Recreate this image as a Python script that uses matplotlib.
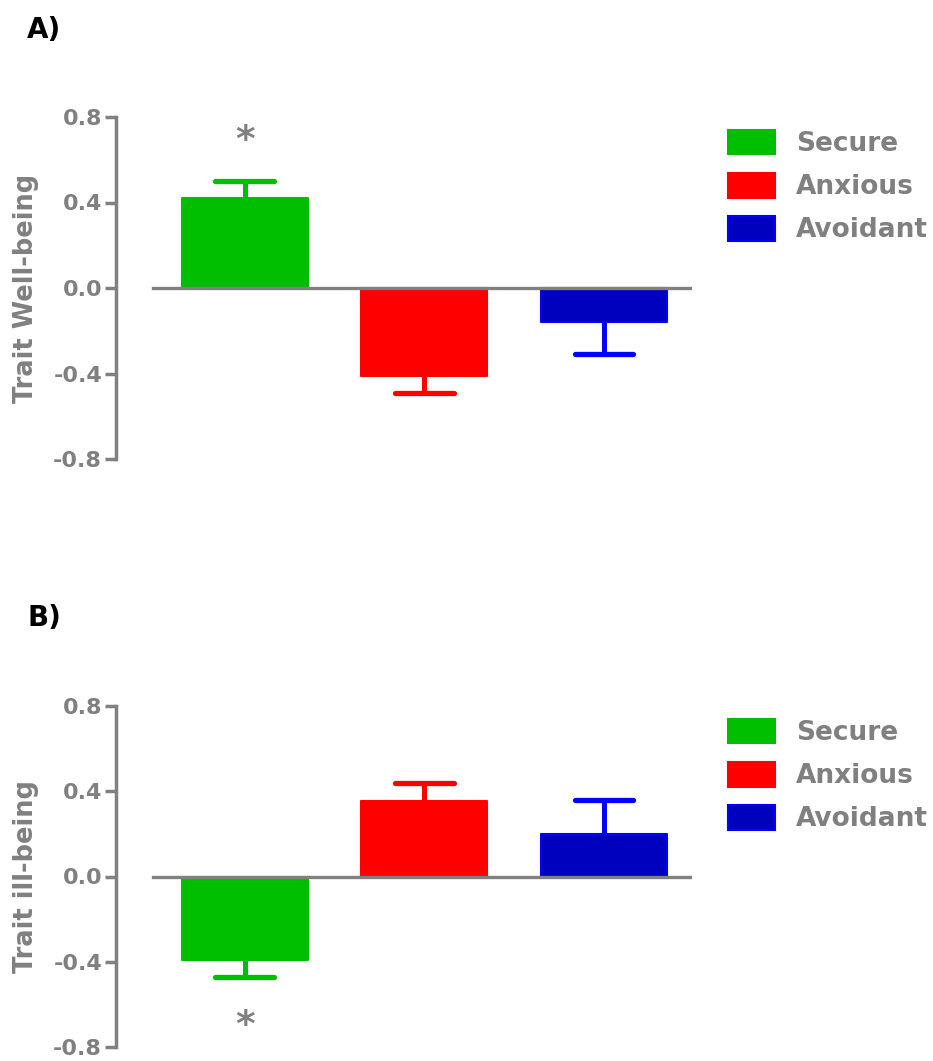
import matplotlib
matplotlib.use('Agg')
import matplotlib.pyplot as plt
import numpy as np

# ---------- DATA ----------
groups = ["Secure", "Anxious", "Avoidant"]
wellbeing_mean = [0.42, -0.41, -0.16]
wellbeing_err = [0.08, 0.08, 0.15]
illbeing_mean = [-0.39, 0.355, 0.20]
illbeing_err = [0.08, 0.085, 0.16]
yticks = [-0.8, -0.4, 0.0, 0.4, 0.8]

fills = ["#00bf00", "#ff0000", "#0000bf"]
edges = ["#00bf00", "#ff0000", "#0000ff"]
grey = "#808080"

plt.rcParams['font.family'] = ['DejaVu Sans']
plt.rcParams['axes.unicode_minus'] = False

W, H = 933, 1061
fig = plt.figure(figsize=(W / 100, H / 100), dpi=100)


def panel(rect, means, errs, ylabel, star_y, legend_top):
    ax = fig.add_axes(rect)
    x = np.arange(len(means))
    means = np.array(means)
    errs = np.array(errs)
    width = 0.70

    ax.bar(x, means, width=width, color=fills, edgecolor=edges,
           linewidth=1.5, joinstyle='round', zorder=2)

    # one-sided error bars
    tips = means + np.sign(means) * errs
    for i in x:
        ax.vlines(x[i], means[i], tips[i], color=edges[i], linewidth=3.6,
                  zorder=1)
        ax.hlines(tips[i], x[i] - width / 4.3, x[i] + width / 4.3,
                  color=edges[i], linewidth=3.8, capstyle='round', zorder=1)

    ax.axhline(0, xmin=(153 - 116) / 576, xmax=1, color=grey,
               linewidth=2.4, zorder=3)

    ax.set_xlim(-0.716, 2.49)
    ax.set_ylim(-0.8, 0.8)
    ax.set_xticks([])
    ax.set_yticks(yticks)
    ax.set_yticklabels([f"{t:.1f}" for t in yticks])
    for s in ["top", "right", "bottom"]:
        ax.spines[s].set_visible(False)
    ax.spines["left"].set_color(grey)
    ax.spines["left"].set_linewidth(2.5)
    ax.tick_params(axis='y', colors=grey, width=2.5, length=8, pad=2,
                   labelsize=16)
    for lbl in ax.get_yticklabels():
        lbl.set_fontweight('bold')

    ax.set_ylabel(ylabel, fontsize=18.5, fontweight='bold', color=grey)
    ax.yaxis.set_label_coords(-0.134, 0.5)

    ax.text(0, star_y, "*", ha='center', va='baseline', fontsize=27,
            fontweight='bold', color=grey)

    handles = [plt.Rectangle((0, 0), 1, 1, facecolor=fills[i],
                             edgecolor=edges[i], linewidth=1.5,
                             joinstyle='round') for i in range(3)]
    leg = fig.legend(handles, groups, loc='upper left',
                     bbox_to_anchor=(728 / W, legend_top),
                     bbox_transform=fig.transFigure, frameon=False,
                     fontsize=19, handlelength=1.78, handleheight=1.05,
                     handletextpad=0.8, labelspacing=0.6, borderpad=0,
                     borderaxespad=0)
    for t in leg.get_texts():
        t.set_color(grey)
        t.set_fontweight('bold')
    return ax


left = 116 / W
width = 576 / W
panel([left, 1 - 459 / H, width, 342 / H], wellbeing_mean, wellbeing_err,
      "Trait Well-being", 0.64, 1 - 130 / H)
panel([left, 1 - 1047 / H, width, 341 / H], illbeing_mean, illbeing_err,
      "Trait ill-being", -0.748, 1 - 719 / H)

fig.text(27 / W, 1 - 30 / H, "A)", ha='left', va='center', fontsize=20,
         fontweight='bold', color='black')
fig.text(27 / W, 1 - 618 / H, "B)", ha='left', va='center', fontsize=20,
         fontweight='bold', color='black')

fig.savefig("out.png", dpi=100)
